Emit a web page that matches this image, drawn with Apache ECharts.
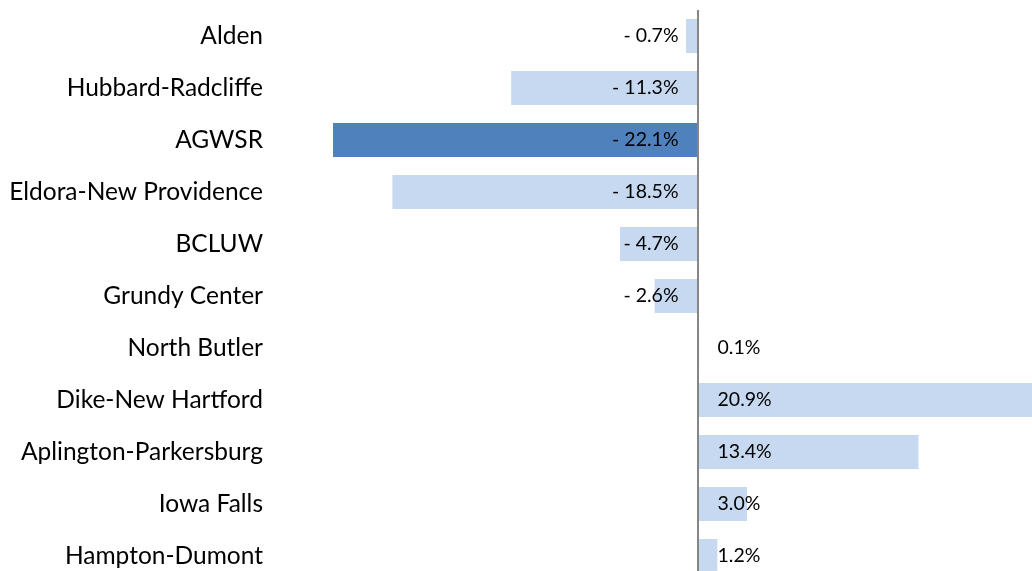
<!DOCTYPE html>
<html>
<head>
<meta charset="utf-8">
<script src="https://cdn.jsdelivr.net/npm/echarts@6/dist/echarts.min.js"></script>
<style>
html,body{margin:0;padding:0;background:#fff;}
#chart{width:1032px;height:571px;}
</style>
</head>
<body>
<div id="chart"></div>
<script>
const categories = ["Alden","Hubbard-Radcliffe","AGWSR","Eldora-New Providence","BCLUW","Grundy Center","North Butler","Dike-New Hartford","Aplington-Parkersburg","Iowa Falls","Hampton-Dumont"];
const values = [-0.7,-11.3,-22.1,-18.5,-4.7,-2.6,0.1,20.9,13.4,3.0,1.2];
const highlight = "AGWSR";

const FONT = "Lato";
const chart = echarts.init(document.getElementById('chart'));
const data = values.map((v, i) => ({
  value: v,
  itemStyle: { color: categories[i] === highlight ? '#4F81BD' : '#C6D9F1' },
  label: { position: v < 0 ? 'insideRight' : 'insideLeft', distance: v < 0 ? 19 : 20 }
}));
chart.setOption({
  animation: false,
  grid: { left: 271, right: 0, top: 10, height: 572, containLabel: false, outerBoundsMode: 'none' },
  xAxis: { type: 'value', min: -25.86, max: 20.28, show: false },
  yAxis: {
    type: 'category', inverse: true, data: categories,
    axisLine: { show: false, onZero: false }, axisTick: { show: false },
    axisLabel: { color: '#000', fontSize: 24.5, fontFamily: FONT, margin: 8 }
  },
  series: [{
    type: 'bar', data: data, barWidth: 34,
    label: {
      show: true, color: '#000', fontSize: 19.5, fontFamily: FONT,
      formatter: p => (p.value < 0 ? '- ' + Math.abs(p.value).toFixed(1) : p.value.toFixed(1)) + '%'
    },
    markLine: {
      silent: true, symbol: 'none', label: { show: false },
      lineStyle: { color: '#868686', width: 2, type: 'solid' },
      data: [{ xAxis: 0 }]
    }
  }]
});
</script>
</body>
</html>
